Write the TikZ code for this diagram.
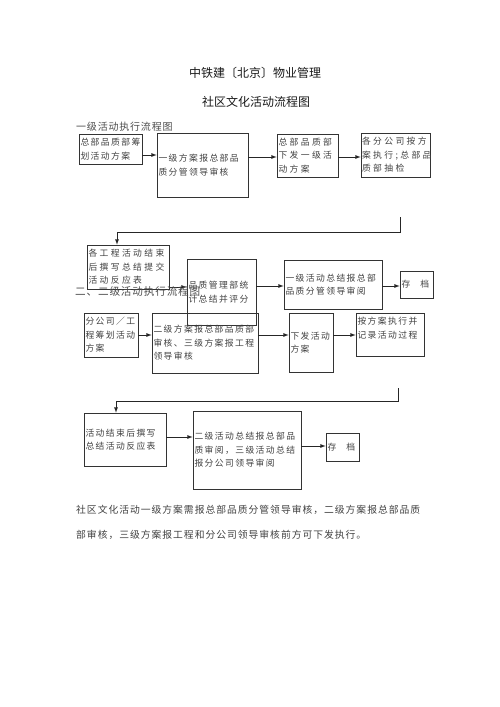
\documentclass[tikz,border=0pt]{standalone}
\usepackage{fontspec}
\setmainfont{Noto Sans CJK SC}
\newfontfamily\titlefont{Noto Sans CJK SC}
\newfontfamily\headfont[LetterSpace=8]{Noto Sans CJK SC}
\newfontfamily\boxfont[LetterSpace=16]{Noto Sans CJK SC}
\newfontfamily\widefont[LetterSpace=27]{Noto Sans CJK SC}
\newfontfamily\parafont[LetterSpace=10]{Noto Sans CJK SC}
\begin{document}
\begin{tikzpicture}[x=1pt,y=-1pt,
  flowbox/.style={draw=black!80, line width=0.7pt, inner xsep=1.5pt, inner ysep=0pt,
    align=left, text=black!75, font=\boxfont\fontsize{8.8}{13.5}\selectfont},
  widebox/.style={flowbox, font=\widefont\fontsize{8.8}{13.5}\selectfont},
  heading/.style={anchor=west, inner sep=0pt, text=black!70},
  arr/.style={-latex, draw=black!85, line width=0.8pt},
  loopline/.style={draw=black!85, line width=0.8pt}]
\useasboundingbox (0,0) rectangle (500,707);
\node[font=\titlefont\fontsize{12}{14}\selectfont, text=black!90] (title) at (255,73) {中铁建〔北京〕物业管理};
\node[font=\titlefont\fontsize{12}{14}\selectfont, text=black!90] (subtitle) at (256,102) {社区文化活动流程图};
\node[heading, font=\headfont\fontsize{10}{12}\selectfont] (head1) at (76,127) {一级活动执行流程图};
\node[flowbox, text width=60pt, minimum height=30pt] (plan1) at (110.5,149) {总部品质部筹\\划活动方案};
\node[flowbox, text width=88pt, minimum height=64pt] (review1) at (202.5,165) {一级方案报总部品\\质分管领导审核};
\node[widebox, text width=58pt, minimum height=43pt] (issue1) at (307.5,155.5) {总部品质部\\下发一级活\\动方案};
\node[widebox, text width=67pt, minimum height=44pt, inner xsep=1pt] (exec1) at (395.5,155) {各分公司按方\\案执行;总部品\\质部抽检};
\draw[arr] (plan1.east |- 0,155) -- (review1.west |- 0,155);
\draw[arr] (review1.east |- 0,157) -- (issue1.west |- 0,157);
\draw[arr] (issue1.east |- 0,157) -- (exec1.west |- 0,157);
\node[widebox, text width=79pt, minimum height=44pt] (report1) at (128,267) {各工程活动结束\\后撰写总结提交\\活动反应表};
\node[flowbox, text width=66pt, minimum height=66pt] (score1) at (221.5,292) {品质管理部统\\计总结并评分};
\node[flowbox, text width=95pt, minimum height=49pt] (audit1) at (333,284.5) {一级活动总结报总部\\品质分管领导审阅};
\node[flowbox, text width=30pt, minimum height=27pt] (file1) at (416.5,284.5) {存\hspace{10pt}档};
\coordinate (loop1) at (400,217);
\coordinate (turn1) at (117,232);
\draw[arr] (loop1) |- (turn1) -- (turn1 |- report1.north);
\draw[arr] (report1.east |- 0,287) -- (score1.west |- 0,287);
\draw[arr] (score1.east |- 0,286) -- (audit1.west |- 0,286);
\draw[arr] (audit1.east |- 0,286) -- (file1.west |- 0,286);
\node[heading, font=\headfont\fontsize{10.6}{12}\selectfont] (head2) at (75,291) {二、二级活动执行流程图};
\node[flowbox, text width=51pt, minimum height=44pt] (plan2) at (111,335) {分公司／工\\程筹划活动\\方案};
\node[flowbox, text width=103pt, minimum height=60pt] (review2) at (205,343) {二级方案报总部品质部\\审核、三级方案报工程\\领导审核};
\node[flowbox, text width=41pt, minimum height=59pt] (issue2) at (311,342.5) {下发活动\\方案};
\node[flowbox, text width=65pt, minimum height=43pt] (exec2) at (390,334.5) {按方案执行并\\记录活动过程\\\mbox{}};
\draw[arr] (plan2.east |- 0,335) -- (review2.west |- 0,335);
\draw[arr] (review2.east |- 0,335) -- (issue2.west |- 0,335);
\draw[arr] (issue2.east |- 0,335) -- (exec2.west |- 0,335);
\node[flowbox, text width=79pt, minimum height=53pt] (report2) at (125,439.5) {活动结束后撰写\\总结活动反应表};
\node[flowbox, text width=105pt, minimum height=78pt] (audit2) at (247,450) {二级活动总结报总部品\\质审阅，三级活动总结\\报分公司领导审阅};
\node[flowbox, text width=30pt, minimum height=28pt] (file2) at (342.5,447) {存\hspace{10pt}档};
\coordinate (loop2) at (398,388);
\coordinate (turn2) at (116,401);
\draw[arr] (loop2) |- (turn2) -- (turn2 |- report2.north);
\draw[arr] (report2.east |- 0,437) -- (audit2.west |- 0,437);
\draw[arr] (audit2.east |- 0,446) -- (file2.west |- 0,446);
\node[anchor=west, inner sep=0pt, align=left, text=black!75, font=\parafont\fontsize{9.8}{25}\selectfont] (note) at (76,522.5) {社区文化活动一级方案需报总部品质分管领导审核，二级方案报总部品质\\部审核，三级方案报工程和分公司领导审核前方可下发执行。};
\end{tikzpicture}
\end{document}
